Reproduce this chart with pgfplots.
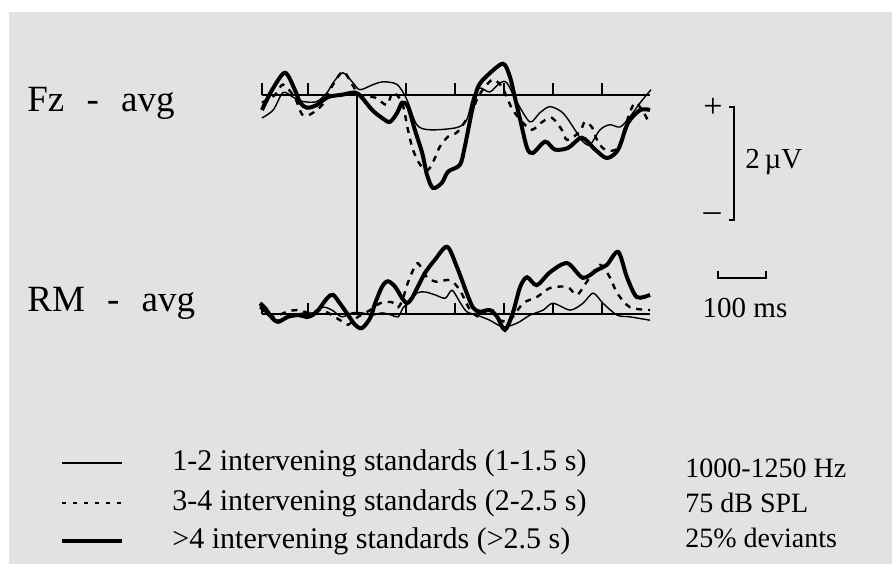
\documentclass[border=0pt]{standalone}
\usepackage{pgfplots}
\pgfplotsset{compat=1.18}
\usepackage{fontspec}
\setmainfont{Liberation Serif}
\definecolor{panel}{RGB}{226,226,226}

% ERP traces, time in ms, amplitude in microvolt
\pgfplotsset{
  erp/.style={scale only axis, width=196pt, xmin=-200, xmax=600,
    hide axis, clip=false, anchor=south west},
  s12/.style={black, line width=0.7pt, smooth, no marks},
  s34/.style={black, line width=1.2pt, dash pattern=on 3pt off 3pt, smooth, no marks},
  s4/.style={black, line width=2pt, smooth, no marks},
}

\begin{document}
\begin{tikzpicture}
\begin{scope}[x=0.5pt,y=-0.5pt]
  \path[use as bounding box, fill=white] (0,0) rectangle (892,564);
  \fill[panel] (9,12) rectangle (892,564);
\end{scope}

% ---- Fz - avg
\begin{axis}[erp, at={(129.5pt,-118pt)}, height=113pt, ymin=-2.5, ymax=1.5]
  \draw[line width=0.8pt] (axis cs:-194,0) -- (axis cs:598,0);
  \pgfplotsinvokeforeach{-194,-100,100,200,300,400,500}{
    \draw[line width=0.8pt] (axis cs:#1,0) -- (axis cs:#1,0.2);}
  \draw[line width=0.8pt] (axis cs:0,0) -- (axis cs:0,-3.876);
  \addplot[s12] coordinates {
    (-194,-0.41) (-171,-0.27) (-151,0.04) (-131,-0.04) (-110,-0.12) (-82,-0.12)
    (-61,0.04) (-49,0.21) (-29,0.39) (-8,0.21) (6,0.09) (33,0.18) (53,0.23)
    (82,0.18) (102,-0.09) (122,-0.53) (149,-0.62) (204,-0.58) (224,-0.44)
    (237,-0.04) (251,0.12) (271,0.05) (292,0.21) (306,0.21) (327,-0.14)
    (353,-0.48) (373,-0.32) (394,-0.21) (420,-0.32) (441,-0.57) (461,-0.83)
    (476,-0.88) (496,-0.62) (516,-0.53) (537,-0.57) (557,-0.39) (578,-0.14) (600,0.09)};
  \addplot[s34] coordinates {
    (-194,-0.14) (-167,0) (-151,0.18) (-127,-0.05) (-112,-0.35) (-96,-0.35)
    (-71,-0.18) (-55,0.09) (-29,0.41) (-10,0.18) (6,0) (37,-0.05) (61,-0.18)
    (73,0.04) (92,-0.14) (104,-0.62) (114,-0.97) (129,-1.24) (145,-1.33)
    (159,-1.12) (169,-0.92) (186,-0.74) (206,-0.65) (235,-0.27) (247,-0.04)
    (261,0.14) (278,0.27) (296,0.14) (308,-0.09) (318,-0.27) (337,-0.48)
    (357,-0.62) (378,-0.48) (398,-0.41) (418,-0.62) (429,-0.80) (455,-0.65)
    (465,-0.48) (480,-0.58) (490,-0.80) (506,-0.97) (533,-0.94) (553,-0.41)
    (567,-0.14) (582,-0.27) (594,-0.46)};
  \addplot[s4] coordinates {
    (-194,-0.27) (-173,0.09) (-147,0.39) (-127,0.09) (-116,-0.14) (-102,-0.23)
    (-82,-0.18) (-59,-0.04) (-31,0) (-4,0.04) (10,-0.05) (31,-0.27) (51,-0.41)
    (67,-0.48) (82,-0.32) (92,-0.14) (104,-0.21) (118,-0.62) (133,-1.03)
    (143,-1.42) (155,-1.65) (173,-1.56) (186,-1.36) (210,-1.24) (220,-0.92)
    (235,-0.27) (247,0.14) (267,0.35) (298,0.55) (312,0.32) (322,-0.04)
    (333,-0.44) (347,-0.94) (359,-1.03) (384,-0.83) (404,-0.97) (431,-0.94)
    (459,-0.76) (486,-0.97) (510,-1.12) (533,-0.97) (553,-0.50) (578,-0.27) (598,-0.27)};
\end{axis}

% ---- RM - avg
\begin{axis}[erp, at={(129.5pt,-185.25pt)}, height=84.75pt, ymin=-1, ymax=2]
  \draw[line width=0.8pt] (axis cs:-194,0) -- (axis cs:598,0);
  \pgfplotsinvokeforeach{-194,-100,100,200,300,400,500}{
    \draw[line width=0.8pt] (axis cs:#1,0) -- (axis cs:#1,0.2);}
  \addplot[s12] coordinates {
    (-198,0.16) (-182,-0.02) (-161,-0.11) (-133,-0.02) (-106,0.02) (-90,0.02)
    (-69,0.12) (-51,0.07) (-31,-0.05) (-10,0.02) (10,0.02) (31,-0.02) (51,0.02)
    (71,-0.02) (84,-0.05) (94,0.11) (104,0.19) (122,0.37) (139,0.39) (159,0.34)
    (180,0.28) (194,0.42) (210,0.21) (224,0.04) (245,-0.02) (271,-0.11)
    (298,-0.23) (327,-0.16) (353,-0.02) (380,0.07) (400,0.19) (435,0.07)
    (461,0.19) (482,0.37) (502,0.19) (531,-0.02) (557,-0.05) (598,-0.11)};
  \addplot[s34] coordinates {
    (-198,0.12) (-173,-0.05) (-143,0.04) (-122,0.07) (-96,0.02) (-71,0.07)
    (-29,-0.14) (-18,-0.19) (2,-0.05) (27,0.07) (47,0.19) (71,0.21) (84,0.12)
    (94,0.28) (102,0.51) (112,0.73) (124,0.90) (143,0.65) (163,0.57) (190,0.60)
    (210,0.42) (231,0.07) (251,-0.05) (271,0.11) (292,-0.11) (312,-0.11)
    (339,0.19) (367,0.30) (394,0.46) (429,0.48) (449,0.34) (469,0.57) (496,0.87)
    (516,0.65) (531,0.37) (557,0.12) (598,0.07)};
  \addplot[s4] coordinates {
    (-198,0.19) (-188,0.11) (-173,-0.07) (-161,-0.14) (-141,-0.05) (-120,-0.02)
    (-100,-0.05) (-82,0.04) (-61,0.28) (-49,0.34) (-35,0.19) (-18,-0.02)
    (-4,-0.19) (10,-0.25) (27,-0.07) (37,0.19) (51,0.48) (63,0.58) (78,0.48)
    (92,0.28) (102,0.19) (112,0.28) (124,0.48) (139,0.73) (159,0.96) (184,1.19)
    (204,0.83) (224,0.37) (237,0.11) (251,0.04) (271,0.07) (286,-0.05)
    (302,-0.28) (318,0.02) (333,0.48) (347,0.65) (367,0.51) (394,0.74)
    (429,0.90) (461,0.64) (490,0.78) (510,0.87) (533,1.10) (551,0.65)
    (571,0.30) (598,0.34)};
\end{axis}

% ---- labels, scale bars and key, in pixels of the scan
\begin{scope}[x=0.5pt,y=-0.5pt,font=\fontsize{14.5}{17}\selectfont]
  \node[anchor=west,font=\fontsize{18.5}{20}\selectfont,inner sep=0] at (27,103)
    {Fz\hspace{0.6em}-\hspace{0.6em}avg};
  \node[anchor=west,font=\fontsize{18.5}{20}\selectfont,inner sep=0] at (27,303)
    {RM\hspace{0.6em}-\hspace{0.6em}avg};
  \node[inner sep=0,font=\fontsize{17}{19}\selectfont] at (713,108) {+};
  \node[inner sep=0,font=\fontsize{17}{19}\selectfont] at (712,217) {–};
  \draw[line width=1pt] (729,107) -- (734,107) -- (734,220) -- (729,220);
  \node[anchor=west,inner sep=0] at (745,162) {2\,µV};
  \draw[line width=1pt] (718,271) -- (718,278) -- (766,278) -- (766,271);
  \node[inner sep=0] at (745,308) {100 ms};
  \draw[line width=0.8pt] (62,463) -- (122,463);
  \draw[line width=1pt, dash pattern=on 2pt off 3.5pt] (62,503) -- (124,503);
  \draw[line width=2pt] (62,541) -- (122,541);
  \begin{scope}[font=\fontsize{15}{17}\selectfont]
    \node[anchor=west,inner sep=0] at (172,463) {1-2 intervening standards (1-1.5 s)};
    \node[anchor=west,inner sep=0] at (172,503) {3-4 intervening standards (2-2.5 s)};
    \node[anchor=west,inner sep=0] at (172,541) {>4 intervening standards (>2.5 s)};
  \end{scope}
  \begin{scope}[font=\fontsize{14}{16}\selectfont]
    \node[anchor=west,inner sep=0] at (685,468) {1000-1250 Hz};
    \node[anchor=west,inner sep=0] at (685,503) {75 dB SPL};
    \node[anchor=west,inner sep=0] at (685,538) {25\% deviants};
  \end{scope}
\end{scope}
\end{tikzpicture}
\end{document}
